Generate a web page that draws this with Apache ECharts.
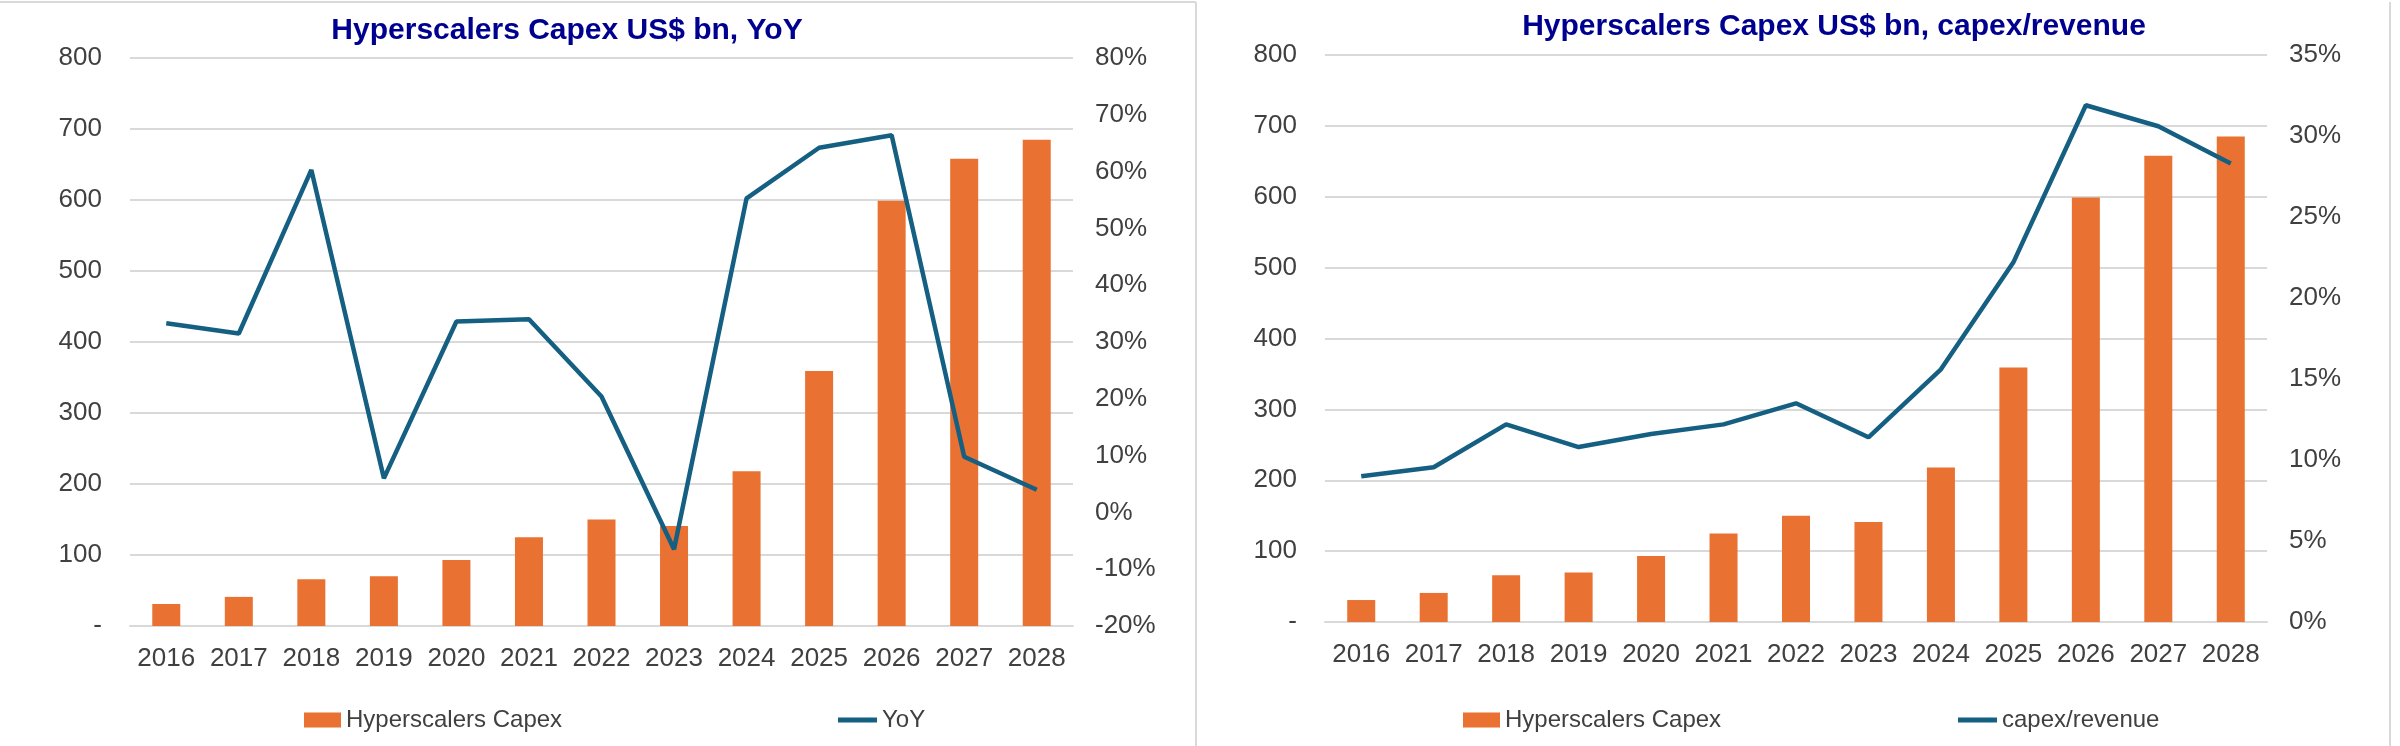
<!DOCTYPE html>
<html>
<head>
<meta charset="utf-8">
<script src="https://cdn.jsdelivr.net/npm/echarts@6/dist/echarts.min.js"></script>
<style>
html,body{margin:0;padding:0;background:#fff;}
#c{width:2400px;height:746px;}
</style>
</head>
<body>
<div id="c"></div>
<script>
const years = ['2016','2017','2018','2019','2020','2021','2022','2023','2024','2025','2026','2027','2028'];
const capex = [31, 41, 66, 70, 93, 125, 150, 141, 218, 359, 599, 658, 685];
const yoy = [33.3, 31.5, 60.3, 6.0, 33.6, 34.0, 20.4, -6.5, 55.3, 64.2, 66.4, 9.8, 4.0];
const capexRevenue = [9.0, 9.55, 12.2, 10.8, 11.6, 12.2, 13.5, 11.4, 15.6, 22.2, 31.9, 30.6, 28.3];
const titleLeft = 'Hyperscalers Capex US$ bn, YoY';
const titleRight = 'Hyperscalers Capex US$ bn, capex/revenue';

const FONT = '"Liberation Sans", Arial, sans-serif';
const ORANGE = '#E97132';
const TEAL = '#156082';
const LABEL = '#404040';
const GRID = '#D9D9D9';

const chart = echarts.init(document.getElementById('c'));

function leftAxis(gi){
  return {type:'value', gridIndex:gi, min:0, max:800, interval:100, position:'left',
    axisLine:{show:false}, axisTick:{show:false},
    splitLine:{lineStyle:{color:GRID, width:2}},
    axisLabel:{color:LABEL, fontFamily:FONT, fontSize:26, margin:28,
      formatter:v => v === 0 ? '-' : String(v)}};
}
function rightAxis(gi, min, max, interval){
  return {type:'value', gridIndex:gi, min:min, max:max, interval:interval, position:'right',
    axisLine:{show:false}, axisTick:{show:false}, splitLine:{show:false},
    axisLabel:{color:LABEL, fontFamily:FONT, fontSize:26, margin:22, formatter:v => v + '%'}};
}
function xAxis(gi){
  return {type:'category', gridIndex:gi, data:years,
    axisLine:{lineStyle:{color:GRID, width:2}}, axisTick:{show:false},
    axisLabel:{color:LABEL, fontFamily:FONT, fontSize:26, margin:20, interval:0}};
}

chart.setOption({
  animation:false,
  backgroundColor:'#fff',
  title:[
    {text:titleLeft, left:562, top:11, textAlign:'center',
      textStyle:{color:'#000090', fontFamily:FONT, fontWeight:'bold', fontSize:30}},
    {text:titleRight, left:1829, top:7, textAlign:'center',
      textStyle:{color:'#000090', fontFamily:FONT, fontWeight:'bold', fontSize:30}}
  ],
  legend:[
    {data:['Hyperscalers Capex'], left:299, top:703, itemWidth:37, itemHeight:15, icon:'rect',
      textStyle:{color:LABEL, fontFamily:FONT, fontSize:24}},
    {data:['YoY'], left:833, top:703, itemWidth:39, itemHeight:5, icon:'rect',
      textStyle:{color:LABEL, fontFamily:FONT, fontSize:24}},
    {data:['Hyperscalers Capex '], left:1458, top:703, itemWidth:37, itemHeight:15, icon:'rect',
      textStyle:{color:LABEL, fontFamily:FONT, fontSize:24}, formatter:n => n.trim()},
    {data:['capex/revenue'], left:1953, top:703, itemWidth:39, itemHeight:5, icon:'rect',
      textStyle:{color:LABEL, fontFamily:FONT, fontSize:24}}
  ],
  grid:[
    {left:130, width:943, top:58, height:568},
    {left:1325, width:942, top:55, height:567}
  ],
  xAxis:[xAxis(0), xAxis(1)],
  yAxis:[leftAxis(0), rightAxis(0,-20,80,10), leftAxis(1), rightAxis(1,0,35,5)],
  graphic:[
    {type:'line', shape:{x1:0,y1:2,x2:1196,y2:2}, style:{stroke:GRID, lineWidth:2}},
    {type:'line', shape:{x1:1196,y1:2,x2:1196,y2:746}, style:{stroke:GRID, lineWidth:2}},
    {type:'line', shape:{x1:2390,y1:2,x2:2390,y2:746}, style:{stroke:GRID, lineWidth:2}}
  ],
  series:[
    {name:'Hyperscalers Capex', type:'bar', xAxisIndex:0, yAxisIndex:0, data:capex, barWidth:28,
      itemStyle:{color:ORANGE}},
    {name:'YoY', type:'line', xAxisIndex:0, yAxisIndex:1, data:yoy, symbol:'none', z:5,
      lineStyle:{color:TEAL, width:4.5}, itemStyle:{color:TEAL}},
    {name:'Hyperscalers Capex ', type:'bar', xAxisIndex:1, yAxisIndex:2, data:capex, barWidth:28,
      itemStyle:{color:ORANGE}},
    {name:'capex/revenue', type:'line', xAxisIndex:1, yAxisIndex:3, data:capexRevenue, symbol:'none', z:5,
      lineStyle:{color:TEAL, width:4.5}, itemStyle:{color:TEAL}}
  ]
});
</script>
</body>
</html>
